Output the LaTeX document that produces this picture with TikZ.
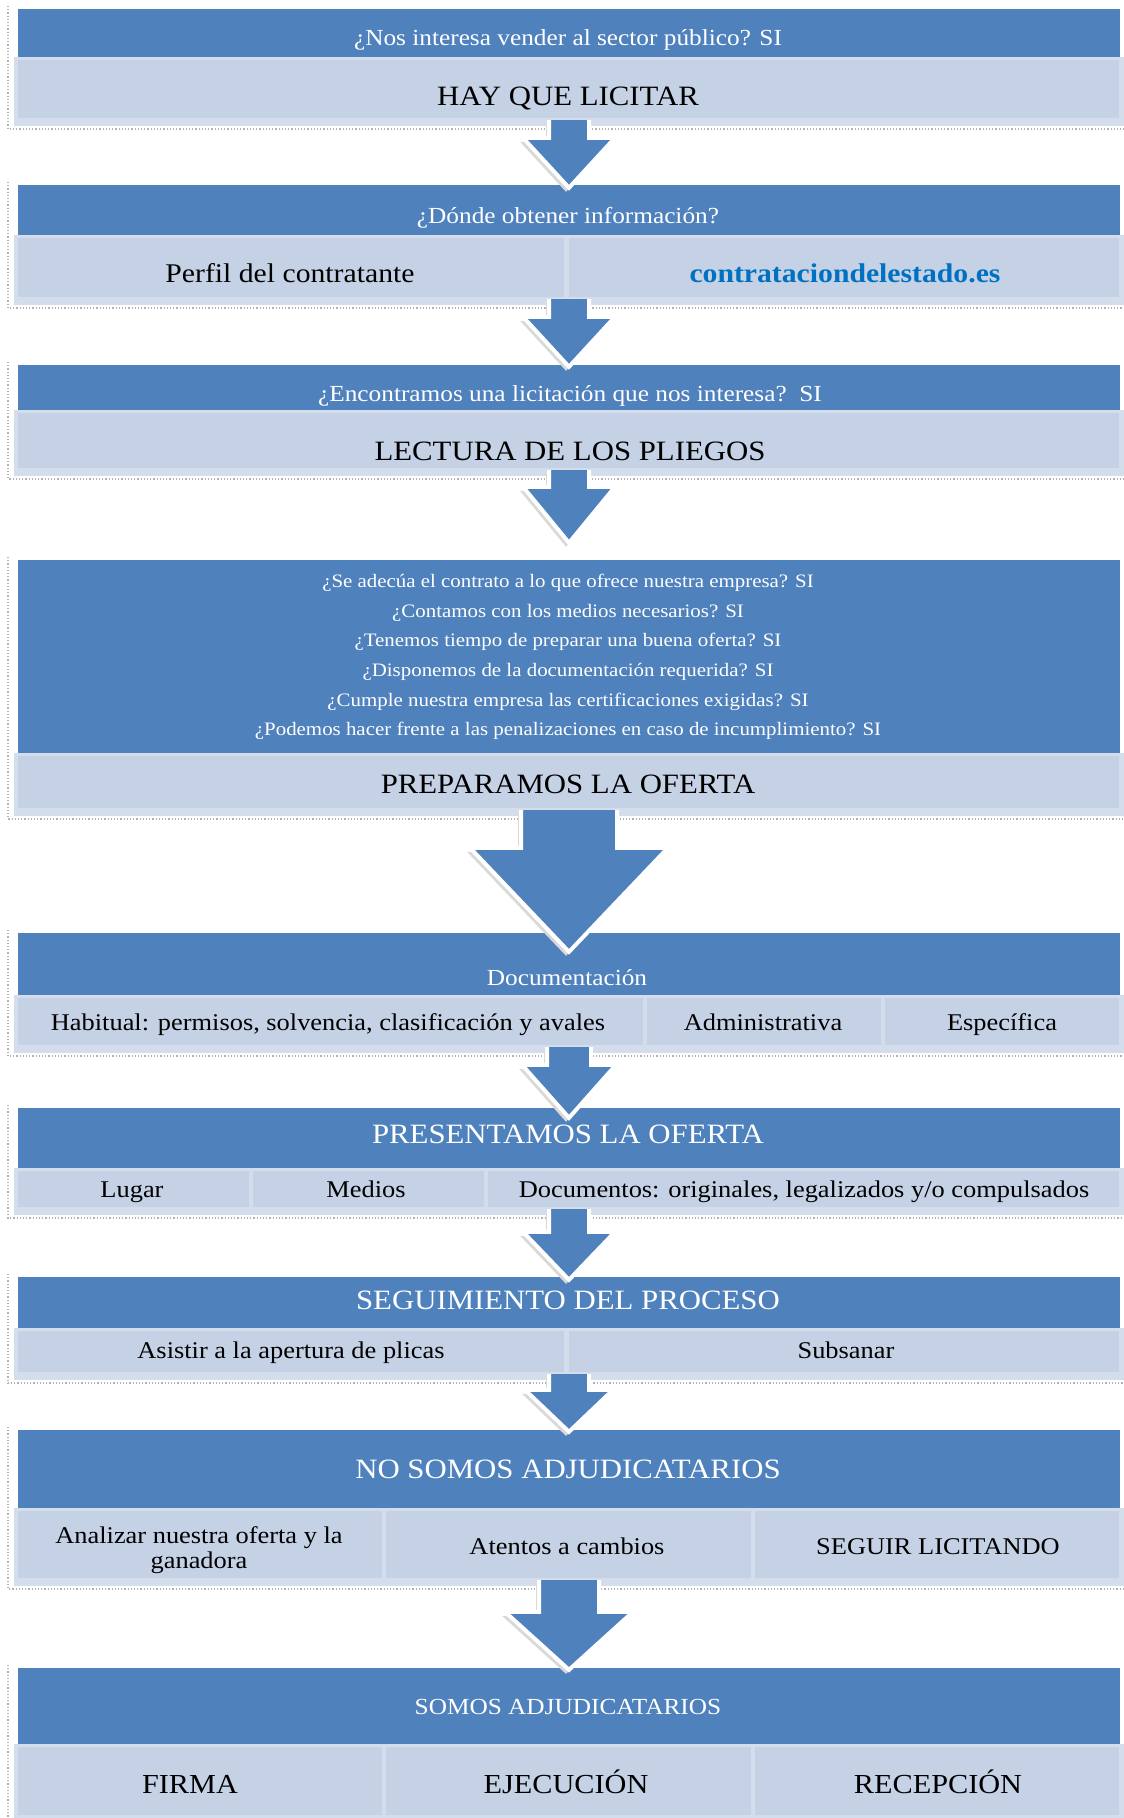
\documentclass[tikz,border=0pt]{standalone}
\usepackage{fontspec}
\setmainfont{Liberation Serif}[FakeStretch=1.1]
\usetikzlibrary{calc}
\definecolor{dkblue}{RGB}{79,129,189}
\definecolor{lightin}{RGB}{197,210,230}
\definecolor{lightout}{RGB}{212,221,236}
\definecolor{linkblue}{RGB}{0,112,192}
\tikzset{
  hdr/.style={fill=dkblue, draw=none, inner sep=0, minimum width=1102},
  lband/.style={fill=lightout, draw=none, inner sep=0, minimum width=1110},
  cellbox/.style={fill=lightin, draw=none, inner sep=0},
  htxt/.style={text=white, inner sep=0, anchor=base, font=\fontsize{23}{28}\selectfont},
  bigw/.style={text=white, inner sep=0, anchor=base, font=\fontsize{28}{33}\selectfont},
  bigk/.style={text=black, inner sep=0, anchor=base, font=\fontsize{28}{33}\selectfont},
  rowtxt/.style={text=black, inner sep=0, anchor=base, font=\fontsize{24}{29}\selectfont},
  rowbig/.style={text=black, inner sep=0, anchor=base, font=\fontsize{27}{32}\selectfont},
  caps/.style={text=black, inner sep=0, anchor=base, font=\fontsize{27.5}{33}\selectfont},
  qtxt/.style={text=white, inner sep=0, align=center, font=\fontsize{19}{29.6}\selectfont},
  shadowline/.style={draw=gray!60, dotted, line width=1.2},
  arr/.style={fill=dkblue, draw=white, line width=4, line join=miter},
  arrshadow/.style={fill=gray!30},
}
\newcommand\flowblock[4]{%
  \draw[shadowline] (8,#2-3) -- (8,#4+11) -- (1124,#4+11);
  \node[hdr, minimum height={#3-#2}] (h#1) at (569,{(#2+#3)/2}) {};
  \node[lband, minimum height={#4+8-#3}] (l#1) at (569,{(#3+#4+8)/2}) {};
}
\newcommand\cellnode[5]{%
  \node[cellbox, minimum width={#3-#2}, minimum height={#5-#4}] (#1) at ({(#2+#3)/2},{(#4+#5)/2}) {};
}
\newcommand\flowarrow[6]{%
  \path (#1.south) ++(0,-6) coordinate (st#2);
  \path (#2.north) ++(0,#6) coordinate (tp#2) ++(0,-#5) coordinate (hd#2);
  \fill[arrshadow] ($(st#2)+(-#3-3,4)$) -- ($(hd#2)+(-#3-3,4)$) -- ($(hd#2)+(-#4-3,4)$) -- ($(tp#2)+(-3,4)$) -- ($(hd#2)+(#4-3,4)$) -- ($(hd#2)+(#3-3,4)$) -- ($(st#2)+(#3-3,4)$) -- cycle;
  \filldraw[arr] ($(st#2)+(-#3,0)$) -- ($(hd#2)+(-#3,0)$) -- ($(hd#2)+(-#4,0)$) -- (tp#2) -- ($(hd#2)+(#4,0)$) -- ($(hd#2)+(#3,0)$) -- ($(st#2)+(#3,0)$);
}
\begin{document}
\begin{tikzpicture}[x=1pt,y=-1pt]
\useasboundingbox (0,0) rectangle (1124,1818);
\fill[white] (0,0) rectangle (1124,1818);

\flowblock{1}{9}{57}{118}
\flowblock{2}{185}{235}{297}
\flowblock{3}{365}{410}{468}
\flowblock{4}{560}{753}{808}
\flowblock{5}{933}{995}{1045}
\flowblock{6}{1108}{1168}{1207}
\flowblock{7}{1277}{1328}{1372}
\flowblock{8}{1430}{1508}{1578}
\flowblock{9}{1668}{1744}{1815}

\cellnode{c1}{18}{1119}{60}{118}
\cellnode{c2a}{18}{564}{238}{297}
\cellnode{c2b}{569}{1119}{238}{297}
\cellnode{c3}{18}{1119}{413}{468}
\cellnode{c4}{18}{1119}{756}{808}
\cellnode{c5a}{18}{643}{998}{1045}
\cellnode{c5b}{647}{881}{998}{1045}
\cellnode{c5c}{885}{1119}{998}{1045}
\cellnode{c6a}{18}{249}{1171}{1207}
\cellnode{c6b}{253}{484}{1171}{1207}
\cellnode{c6c}{488}{1119}{1171}{1207}
\cellnode{c7a}{18}{564}{1331}{1372}
\cellnode{c7b}{569}{1119}{1331}{1372}
\cellnode{c8a}{18}{382}{1511}{1578}
\cellnode{c8b}{386}{751}{1511}{1578}
\cellnode{c8c}{755}{1119}{1511}{1578}
\cellnode{c9a}{18}{382}{1747}{1815}
\cellnode{c9b}{386}{751}{1747}{1815}
\cellnode{c9c}{755}{1119}{1747}{1815}

% texts
\node[htxt] (t1h) at (568,45) {¿Nos interesa vender al sector público? SI};
\node[bigk] (t1) at (568,105) {HAY QUE LICITAR};
\node[htxt] (t2h) at (568,223) {¿Dónde obtener información?};
\node[rowbig] (t2a) at (290,282) {Perfil del contratante};
\node[rowbig, text=linkblue, font=\fontsize{27}{32}\selectfont\bfseries] (t2b) at (845,282) {contrataciondelestado.es};
\node[htxt] (t3h) at (570,401) {¿Encontramos una licitación que nos interesa?\ \ SI};
\node[bigk] (t3) at (570,460) {LECTURA DE LOS PLIEGOS};
\node[qtxt] (t4q) at (568,657) {¿Se adecúa el contrato a lo que ofrece nuestra empresa? SI\\
¿Contamos con los medios necesarios? SI\\
¿Tenemos tiempo de preparar una buena oferta? SI\\
¿Disponemos de la documentación requerida? SI\\
¿Cumple nuestra empresa las certificaciones exigidas? SI\\
¿Podemos hacer frente a las penalizaciones en caso de incumplimiento? SI};
\node[bigk] (t4) at (568,793) {PREPARAMOS LA OFERTA};
\node[htxt] (t5h) at (567,985) {Documentación};
\node[rowtxt] (t5a) at (328,1030) {Habitual: permisos, solvencia, clasificación y avales};
\node[rowtxt] (t5b) at (763,1030) {Administrativa};
\node[rowtxt] (t5c) at (1002,1030) {Específica};
\node[bigw] (t6h) at (568,1143) {PRESENTAMOS LA OFERTA};
\node[rowtxt] (t6a) at (132,1197) {Lugar};
\node[rowtxt] (t6b) at (366,1197) {Medios};
\node[rowtxt] (t6c) at (804,1197) {Documentos: originales, legalizados y/o compulsados};
\node[bigw] (t7h) at (568,1309) {SEGUIMIENTO DEL PROCESO};
\node[rowtxt] (t7a) at (291,1358) {Asistir a la apertura de plicas};
\node[rowtxt] (t7b) at (846,1358) {Subsanar};
\node[bigw] (t8h) at (568,1478) {NO SOMOS ADJUDICATARIOS};
\node[rowtxt, anchor=center, align=center, font=\fontsize{24}{25}\selectfont] (t8a) at (199,1550) {Analizar nuestra oferta y la\\ganadora};
\node[rowtxt] (t8b) at (567,1554) {Atentos a cambios};
\node[rowtxt] (t8c) at (938,1554) {SEGUIR LICITANDO};
\node[htxt, font=\fontsize{23}{27}\selectfont] (t9h) at (568,1714) {SOMOS ADJUDICATARIOS};
\node[caps] (t9a) at (190,1793) {FIRMA};
\node[caps] (t9b) at (566,1793) {EJECUCIÓN};
\node[caps] (t9c) at (938,1793) {RECEPCIÓN};

% arrows
\flowarrow{l1}{h2}{20}{46}{50}{3}
\flowarrow{l2}{h3}{20}{46}{50}{2}
\flowarrow{l3}{h4}{20}{46}{56}{-17}
\flowarrow{l4}{h5}{48}{99}{104}{19}
\flowarrow{l5}{h6}{22}{47}{53}{10}
\flowarrow{l6}{h7}{20}{46}{48}{3}
\flowarrow{l7}{h8}{20}{44}{42}{2}
\flowarrow{l8}{h9}{30}{64}{58}{2}
\end{tikzpicture}
\end{document}
